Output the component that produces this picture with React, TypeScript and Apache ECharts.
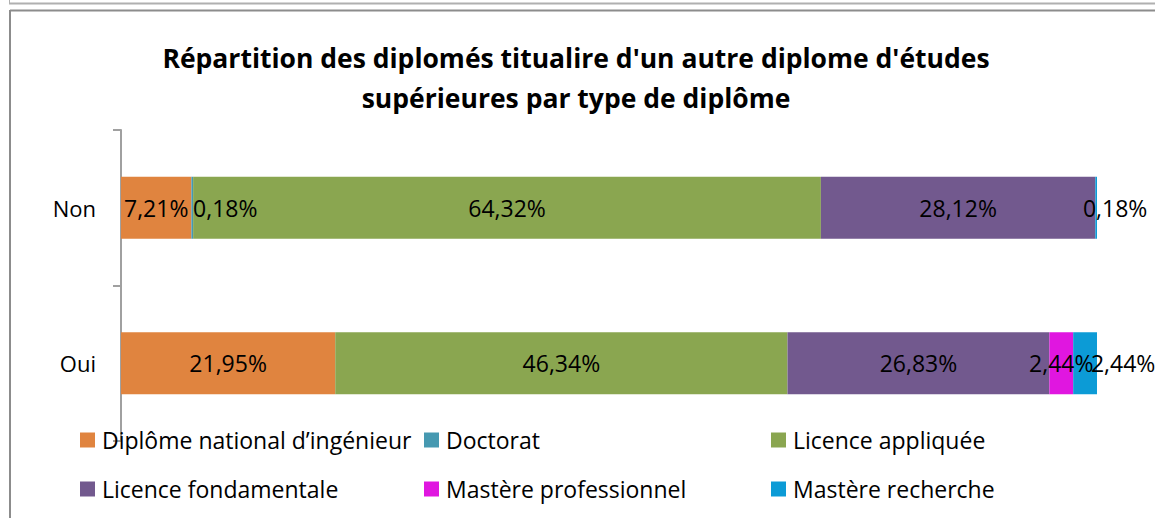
import React, { useEffect, useRef } from "react";
import * as echarts from "echarts";

const categories = ["Non", "Oui"];
const seriesNames = [
  "Diplôme national d’ingénieur",
  "Doctorat",
  "Licence appliquée",
  "Licence fondamentale",
  "Mastère professionnel",
  "Mastère recherche",
];
const ingenieur = [7.21, 21.95];
const doctorat = [0.18, 0];
const licenceAppliquee = [64.32, 46.34];
const licenceFondamentale = [28.12, 26.83];
const mastereProfessionnel = [0, 2.44];
const mastereRecherche = [0.18, 2.44];

const colors = ["#E0843F", "#4699B1", "#8AA650", "#72598E", "#E016E0", "#0C9BD6"];
const FONT = "Open Sans";

// per-point label shifts (px) for tiny segments
const labelShift: Record<string, number[]> = {
  "1-0": [33, 0],
  "5-0": [19, 0],
  "5-1": [38, 0],
};

export default function App() {
  const ref = useRef<HTMLDivElement>(null);
  useEffect(() => {
    const chart = echarts.init(ref.current!, null, { renderer: "svg" });
    const values = [ingenieur, doctorat, licenceAppliquee, licenceFondamentale, mastereProfessionnel, mastereRecherche];
    const series = values.map((vals, si) => ({
      name: seriesNames[si],
      type: "bar",
      stack: "total",
      barWidth: 62,
      itemStyle: { color: colors[si] },
      label: {
        show: true,
        position: "inside",
        color: "#000",
        fontFamily: FONT,
        fontSize: 23,
        formatter: (p: any) => (p.value ? p.value.toFixed(2).replace(".", ",") + "%" : ""),
      },
      data: vals.map((v, ci) => {
        const sh = labelShift[`${si}-${ci}`];
        return sh ? { value: v, label: { offset: sh } } : v;
      }),
    }));
    const legendCol = (left: number, names: string[]) => ({
      show: true,
      orient: "vertical",
      left,
      top: 428,
      padding: 0,
      icon: "rect",
      itemWidth: 15,
      itemHeight: 15,
      itemGap: 25,
      selectedMode: false,
      textStyle: { fontFamily: FONT, fontSize: 23, color: "#000", lineHeight: 24, padding: [0, 0, 0, 2] },
      data: names,
    });
    chart.setOption({
      animation: false,
      textStyle: { fontFamily: FONT },
      title: {
        text: "Répartition des diplomés titualire d'un autre diplome d'études\nsupérieures par type de diplôme",
        left: 571,
        top: 33,
        textAlign: "center",
        textStyle: { fontFamily: FONT, fontWeight: "bold", fontSize: 26.5, color: "#000", lineHeight: 40 },
      },
      legend: [
        legendCol(80, [seriesNames[0], seriesNames[3]]),
        legendCol(424, [seriesNames[1], seriesNames[4]]),
        legendCol(771, [seriesNames[2], seriesNames[5]]),
      ],
      grid: { left: 121, right: 58, top: 130, bottom: 77, containLabel: false },
      xAxis: { type: "value", min: 0, max: 100, show: false },
      yAxis: {
        type: "category",
        inverse: true,
        data: categories,
        axisLine: { show: true, lineStyle: { color: "#A0A0A0", width: 2 } },
        axisTick: { show: true, length: 8, lineStyle: { color: "#A0A0A0", width: 2 } },
        axisLabel: { color: "#000", fontFamily: FONT, fontSize: 22, margin: 25 },
      },
      graphic: [
        { type: "line", shape: { x1: 9, y1: 3.5, x2: 1155, y2: 3.5 }, style: { stroke: "#B0B0B0", lineWidth: 2 } },
        { type: "line", shape: { x1: 9.5, y1: 0, x2: 9.5, y2: 4 }, style: { stroke: "#B0B0B0", lineWidth: 1 } },
        { type: "line", shape: { x1: 10, y1: 10.5, x2: 1155, y2: 10.5 }, style: { stroke: "#8C8C8C", lineWidth: 2 } },
        { type: "line", shape: { x1: 10, y1: 10, x2: 10, y2: 518 }, style: { stroke: "#8C8C8C", lineWidth: 2 } },
      ],
      series,
    });
    return () => chart.dispose();
  }, []);
  return (
    <div
      ref={ref}
      style={{ position: "fixed", left: 0, top: 0, width: 1155, height: 518, background: "#fff" }}
    />
  );
}
